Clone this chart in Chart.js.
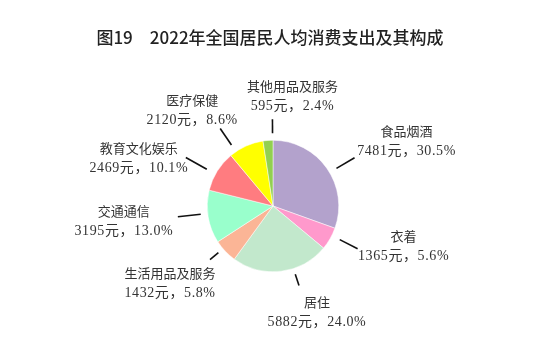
<!DOCTYPE html>
<html>
<head>
<meta charset="utf-8">
<script src="https://cdn.jsdelivr.net/npm/chart.js@4"></script>
<style>
  html, body { margin: 0; padding: 0; background: #fff; }
  #wrap { width: 540px; height: 349px; }
</style>
</head>
<body>
<div id="wrap"><canvas id="pieChart" width="540" height="349"></canvas></div>
<script>
  const categories = ['食品烟酒', '衣着', '居住', '生活用品及服务', '交通通信', '教育文化娱乐', '医疗保健', '其他用品及服务'];
  const amounts = [7481, 1365, 5882, 1432, 3195, 2469, 2120, 595];
  const shares = [30.5, 5.6, 24.0, 5.8, 13.0, 10.1, 8.6, 2.4];

  const colors = ['#B3A2CC', '#FF99CC', '#C2E8CC', '#FBB596', '#99FFCC', '#FF7C80', '#FFFF00', '#92D050'];

  // leader line: angle tweak (deg), inner/outer distance past the rim; text block offset from line end
  const labelLayout = [
    { tilt: 4.5, r1: 8, r2: 29, dx: 52, dy: -25 },
    { tilt: -3, r1: 9, r2: 29, dx: 46, dy: -11 },
    { tilt: -11, r1: 6, r2: 18, dx: 18, dy: 18 },
    { tilt: 3, r1: 6, r2: 17, dx: -40, dy: 15 },
    { tilt: 3, r1: 7, r2: 30, dx: -54, dy: -4 },
    { tilt: -3, r1: 10, r2: 34, dx: -47, dy: -8 },
    { tilt: -10, r1: 8, r2: 28, dx: -28, dy: -27 },
    { tilt: 4, r1: 7, r2: 21, dx: 20, dy: -32 }
  ];

  const pieLabels = {
    id: 'pieLabels',
    afterDraw(chart) {
      const c = chart.ctx;
      c.save();
      // title
      c.fillStyle = '#222';
      c.font = '500 17px "Noto Sans CJK SC", sans-serif';
      c.textAlign = 'center';
      c.textBaseline = 'middle';
      c.fillText('图19　2022年全国居民人均消费支出及其构成', 270, 38);

      const arcs = chart.getDatasetMeta(0).data;
      arcs.forEach((arc, i) => {
        const p = arc.getProps(['x', 'y', 'startAngle', 'endAngle', 'outerRadius'], true);
        const L = labelLayout[i];
        const a = (p.startAngle + p.endAngle) / 2 + L.tilt * Math.PI / 180;
        const x1 = p.x + Math.cos(a) * (p.outerRadius + L.r1);
        const y1 = p.y + Math.sin(a) * (p.outerRadius + L.r1);
        const x2 = p.x + Math.cos(a) * (p.outerRadius + L.r2);
        const y2 = p.y + Math.sin(a) * (p.outerRadius + L.r2);
        c.strokeStyle = '#111';
        c.lineWidth = 1.6;
        c.beginPath();
        c.moveTo(x1, y1);
        c.lineTo(x2, y2);
        c.stroke();

        const tx = x2 + L.dx;
        const ty = y2 + L.dy;
        c.fillStyle = '#333';
        c.letterSpacing = '0px';
        c.font = '13px "Liberation Serif", "Noto Sans CJK SC", serif';
        c.fillText(categories[i], tx, ty);
        c.letterSpacing = '0.6px';
        c.font = '14px "Liberation Serif", "Noto Sans CJK SC", serif';
        c.fillText(amounts[i] + '元，' + shares[i].toFixed(1) + '%', tx, ty + 19);
      });
      c.restore();
    }
  };

  new Chart(document.getElementById('pieChart'), {
    type: 'pie',
    data: {
      labels: categories,
      datasets: [{
        data: amounts,
        backgroundColor: colors,
        borderColor: '#ffffff',
        borderWidth: 0.5
      }]
    },
    options: {
      responsive: false,
      animation: false,
      layout: { padding: { top: 140, bottom: 77, left: 207, right: 201 } },
      plugins: {
        legend: { display: false },
        tooltip: { enabled: false }
      }
    },
    plugins: [pieLabels]
  });
</script>
</body>
</html>
